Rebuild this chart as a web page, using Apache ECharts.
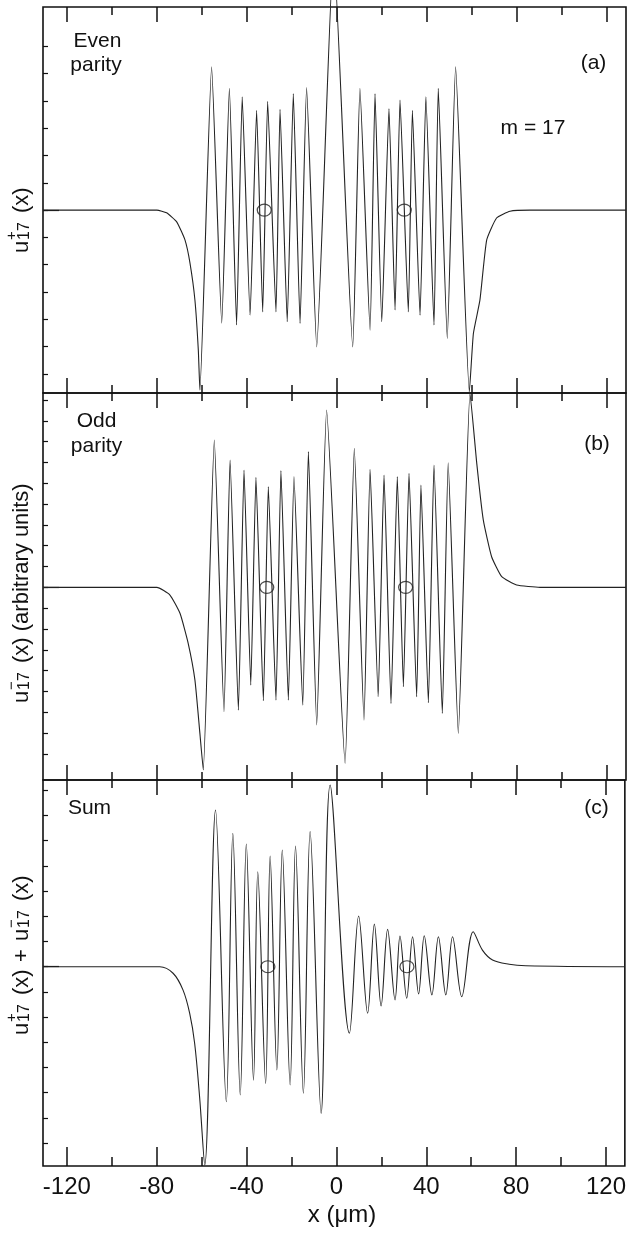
<!DOCTYPE html>
<html><head><meta charset="utf-8">
<script src="https://cdn.jsdelivr.net/npm/echarts@6/dist/echarts.min.js"></script>
<style>html,body{margin:0;padding:0;background:#fff}#c{width:629px;height:1235px}</style>
</head><body><div id="c"></div>
<script>
// ---- axis ticks / labels ----
const xMajorTicks = [-120, -80, -40, 0, 40, 80, 120];
const xMinorTicks = [-100, -60, -20, 20, 60, 100];
const xTickLabels = [-120, -80, -40, 0, 40, 80, 120];
const evenYTicks = [-6, -5, -4, -3, -2, -1, 0, 1, 2, 3, 4, 5, 6];
const oddYTicks = [-8, -7, -6, -5, -4, -3, -2, -1, 0, 1, 2, 3, 4, 5, 6, 7, 8, 9];
const sumYTicks = [-7, -6, -5, -4, -3, -2, -1, 0, 1, 2, 3, 4, 5, 6, 7];

// ---- (a) even parity u+17(x) : [x (um), value] ----
const evenPts = [
  [-130.6, 0], [-80.0, 0], [-75.7, -0.10], [-71.2, -0.43], [-67.5, -1.10], [-65.3, -1.94],
  [-63.1, -3.30], [-61.6, -5.13], [-60.9, -6.59], [-55.7, 5.25], [-51.2, -4.14], [-47.8, 4.46],
  [-44.6, -4.21], [-42.1, 4.15], [-38.6, -3.85], [-35.7, 3.66], [-33.0, -3.73], [-30.8, 3.99],
  [-27.1, -3.73], [-25.3, 3.69], [-22.1, -4.09], [-19.4, 4.27], [-16.4, -4.15], [-13.5, 4.49],
  [-9.0, -5.01], [-1.5, 9.5], [7.0, -5.01], [10.2, 4.46], [14.7, -4.40], [16.9, 4.27],
  [19.9, -4.09], [23.1, 3.72], [25.8, -3.66], [28.0, 4.03], [31.7, -3.73], [33.5, 3.66],
  [36.9, -3.85], [39.5, 4.15], [43.1, -4.21], [45.0, 4.46], [49.0, -4.70], [52.7, 5.25],
  [58.8, -6.66], [60.6, -4.52], [63.5, -3.30], [66.5, -1.10], [70.9, -0.29], [76.9, -0.04],
  [85.7, 0], [128.4, 0]
];
// ---- (b) odd parity u-17(x) ----
const oddPts = [
  [-130.6, 0], [-80.0, 0], [-74.2, -0.37], [-69.7, -1.26], [-66.1, -2.69], [-63.1, -4.46],
  [-60.9, -7.02], [-59.4, -8.78], [-54.5, 7.08], [-50.2, -5.98], [-47.5, 6.12], [-43.8, -5.90],
  [-41.3, 5.64], [-38.3, -4.70], [-36.0, 5.29], [-32.7, -5.45], [-30.5, 4.84], [-27.1, -5.42],
  [-24.9, 5.61], [-21.6, -5.42], [-19.1, 5.32], [-15.2, -5.66], [-12.7, 6.52], [-9.0, -6.62],
  [-4.6, 8.52], [3.6, -8.46], [7.7, 6.68], [12.0, -6.38], [14.7, 5.67], [18.3, -5.26],
  [20.9, 5.40], [24.0, -5.58], [26.8, 5.32], [29.5, -4.78], [32.0, 5.48], [35.4, -5.26],
  [37.3, 4.92], [40.6, -5.55], [43.1, 5.88], [46.8, -6.06], [49.4, 5.99], [53.9, -7.02],
  [59.1, 9.34], [62.1, 5.96], [65.0, 3.24], [68.7, 1.47], [73.2, 0.51], [79.8, 0.11],
  [90.2, 0], [128.4, 0]
];
// ---- (c) sum u+17(x) + u-17(x) ----
const sumPts = [
  [-130.6, 0], [-78.6, 0], [-72.7, -0.26], [-68.3, -0.92], [-65.3, -1.85], [-63.1, -3.04],
  [-60.9, -5.16], [-58.6, -7.87], [-53.8, 6.22], [-49.0, -5.36], [-46.1, 5.29], [-42.8, -5.09],
  [-40.1, 4.87], [-36.9, -4.50], [-35.0, 3.77], [-31.5, -4.63], [-29.5, 4.39], [-26.5, -4.10],
  [-24.1, 4.63], [-20.6, -4.69], [-18.2, 4.79], [-14.7, -5.02], [-11.7, 5.36], [-6.8, -5.82],
  [-2.8, 7.21], [5.8, -2.64], [9.9, 2.01], [13.9, -1.85], [16.9, 1.69], [19.9, -1.56],
  [22.8, 1.48], [26.1, -1.32], [28.3, 1.22], [31.3, -1.25], [33.9, 1.19], [36.6, -1.08],
  [39.1, 1.23], [42.5, -1.12], [45.4, 1.19], [48.7, -1.12], [51.7, 1.19], [55.8, -1.19],
  [60.9, 1.39], [65.0, 0.66], [69.5, 0.27], [76.9, 0.10], [84.3, 0.04], [128.4, 0]
];
// ---- small circles marking the well centres ----
const circA = [[-32.3, 0], [29.9, 0]];
const circB = [[-31.2, 0], [30.5, 0]];
const circC = [[-30.5, 0], [31.4, 0]];

const X_MIN = -130.6, X_MAX = 128.4;
const FONT = '"Liberation Sans", Arial, sans-serif';
const INK = '#111';

const panels = [
  { pts: evenPts, circ: circA, yMin: -6.70, yMax: 7.44, yTicks: evenYTicks, top: 7, height: 386, smooth: 0.15 },
  { pts: oddPts, circ: circB, yMin: -9.26, yMax: 9.34, yTicks: oddYTicks, top: 393, height: 387, smooth: 0.15 },
  { pts: sumPts, circ: circC, yMin: -7.91, yMax: 7.41, yTicks: sumYTicks, top: 780, height: 386, smooth: 0.35 }
];

const grid = [], xAxis = [], yAxis = [], series = [];
const tickStyle = { color: INK, width: 1.5 };
panels.forEach((p, gi) => {
  grid.push({ left: 43, width: 583, top: p.top, height: p.height, show: true,
    borderColor: INK, borderWidth: 1.6, backgroundColor: 'transparent' });
  const last = gi === panels.length - 1;
  const xb = { type: 'value', gridIndex: gi, min: X_MIN, max: X_MAX,
    axisLine: { show: false, onZero: false }, splitLine: { show: false }, axisLabel: { show: false } };
  xAxis.push(Object.assign({}, xb, { position: 'bottom',
    axisTick: { show: true, inside: true, length: last ? 19 : 15, customValues: xMajorTicks, lineStyle: tickStyle },
    axisLabel: last ? { show: true, customValues: xTickLabels, fontSize: 24, color: INK, margin: 9, fontFamily: FONT } : { show: false }
  }));
  xAxis.push(Object.assign({}, xb, { position: 'bottom',
    axisTick: { show: true, inside: true, length: last ? 9 : 8, customValues: xMinorTicks, lineStyle: tickStyle } }));
  xAxis.push(Object.assign({}, xb, { position: 'top',
    axisTick: { show: true, inside: true, length: 15, customValues: xMajorTicks, lineStyle: tickStyle } }));
  xAxis.push(Object.assign({}, xb, { position: 'top',
    axisTick: { show: true, inside: true, length: 8, customValues: xMinorTicks, lineStyle: tickStyle } }));
  const yb = { type: 'value', gridIndex: gi, min: p.yMin, max: p.yMax, position: 'left',
    axisLine: { show: false, onZero: false }, splitLine: { show: false }, axisLabel: { show: false } };
  yAxis.push(Object.assign({}, yb, {
    axisTick: { show: true, inside: true, length: 5, customValues: p.yTicks, lineStyle: { color: INK, width: 1.2 } } }));
  yAxis.push(Object.assign({}, yb, {
    axisTick: { show: true, inside: true, length: 16, customValues: [0], lineStyle: { color: INK, width: 1.2 } } }));
  series.push({ type: 'line', xAxisIndex: gi * 4, yAxisIndex: gi * 2, data: p.pts, showSymbol: false,
    smooth: p.smooth, clip: false, lineStyle: { color: '#222', width: 1.1 }, silent: true, animation: false });
  series.push({ type: 'scatter', xAxisIndex: gi * 4, yAxisIndex: gi * 2, data: p.circ, symbol: 'circle',
    symbolSize: [14, 12], itemStyle: { color: 'rgba(0,0,0,0)', borderColor: '#222', borderWidth: 1.2 },
    silent: true, animation: false });
});

function txt(str, x, y, size, align) {
  return { type: 'text', x: x, y: y, style: { text: str, fontSize: size, fontFamily: FONT, fill: INK,
    align: align || 'center', verticalAlign: 'middle' } };
}
function yTitle(x, y, parts) {
  return { type: 'group', x: x, y: y, rotation: Math.PI / 2,
    children: parts.map(q => ({ type: 'text', x: q[1], y: q[2], style: { text: q[0], fontSize: q[3],
      fontFamily: FONT, fill: INK, align: 'left', verticalAlign: 'middle' } })) };
}

const graphic = [
  txt('Even', 97.5, 41, 21), txt('parity', 96, 65, 21),
  txt('(a)', 593.5, 63.5, 21), txt('m = 17', 533, 128, 21),
  txt('Odd', 96.5, 421, 21), txt('parity', 96.5, 446, 21),
  txt('(b)', 597, 444, 21),
  txt('Sum', 89.5, 808, 21),
  txt('(c)', 596.5, 808, 21),
  txt('x (\u03bcm)', 342, 1215, 24),
  yTitle(22, 253, [['u', 0, 0, 22], ['+', 13, -10, 15], ['17', 13, 3, 16], ['(x)', 40, 0, 22]]),
  yTitle(22, 703, [['u', 0, 0, 22], ['\u2212', 13, -10, 15], ['17', 13, 3, 16], ['(x) (arbitrary units)', 40, 0, 22]]),
  yTitle(22, 1035, [['u', 0, 0, 22], ['+', 13, -10, 15], ['17', 13, 3, 16], ['(x)', 40, 0, 22],
    ['+', 73, 0, 22], ['u', 94, 0, 22], ['\u2212', 107, -10, 15], ['17', 107, 3, 16], ['(x)', 134, 0, 22]])
];

const chart = echarts.init(document.getElementById('c'), null, { renderer: 'canvas' });
chart.setOption({ backgroundColor: '#fff', animation: false, grid, xAxis, yAxis, series, graphic });
</script></body></html>
